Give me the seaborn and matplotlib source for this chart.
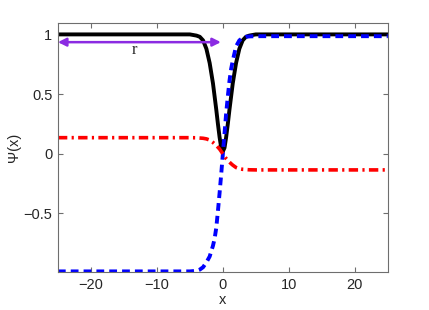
import numpy as np
import pandas as pd
import matplotlib
matplotlib.use("Agg")
import matplotlib.pyplot as plt
import seaborn as sns

# --- data ---
x_vals = [-25, -10, -5, -4, -3.5, -3, -2.5, -2, -1.5, -1.25, -1, -0.75, -0.5, -0.25,
          0, 0.25, 0.5, 0.75, 1, 1.25, 1.5, 2, 2.5, 3, 3.5, 4, 5, 10, 25]

amp_vals = [1.0, 1.0, 1.0, 0.99, 0.98, 0.95, 0.88, 0.76, 0.59, 0.48, 0.37, 0.25, 0.14, 0.05,
            0.02, 0.05, 0.14, 0.25, 0.37, 0.48, 0.59, 0.76, 0.88, 0.95, 0.98, 0.99, 1.0, 1.0, 1.0]

re_vals = [-0.985, -0.985, -0.985, -0.98, -0.97, -0.95, -0.91, -0.86, -0.77, -0.71, -0.62, -0.48, -0.33, -0.17,
           0.0, 0.17, 0.34, 0.48, 0.61, 0.71, 0.78, 0.9, 0.95, 0.97, 0.98, 0.983, 0.985, 0.985, 0.985]

im_vals = [0.135, 0.135, 0.135, 0.134, 0.132, 0.13, 0.125, 0.115, 0.095, 0.083, 0.07, 0.055, 0.04, 0.02,
           0.0, -0.02, -0.04, -0.055, -0.07, -0.083, -0.095, -0.115, -0.125, -0.13, -0.132, -0.134, -0.135, -0.135, -0.135]

x_ticks = [-20, -10, 0, 10, 20]
y_ticks = [-0.5, 0, 0.5, 1]

df = pd.DataFrame({"x": x_vals, "amp": amp_vals, "re": re_vals, "im": im_vals})

sns.set_style("ticks")
plt.rcParams["font.family"] = ["Liberation Sans", "DejaVu Sans"]

fig = plt.figure(figsize=(4.29, 3.10), dpi=100)
ax = fig.add_axes([0.135, 0.1226, 0.769, 0.8034])

sns.lineplot(data=df, x="x", y="amp", ax=ax, color="black", lw=2.8, sort=False)
sns.lineplot(data=df, x="x", y="re", ax=ax, color="#0000ff", lw=2.8, sort=False,
             linestyle=(0, (2.0, 1.3)))
sns.lineplot(data=df, x="x", y="im", ax=ax, color="#ff0000", lw=2.6, sort=False,
             linestyle=(0, (2.6, 1.2, 0.6, 1.2)))

# double arrow showing r
purple = "#8b2be2"
ax.annotate("", xy=(-0.3, 0.935), xytext=(-25, 0.935),
            arrowprops=dict(arrowstyle="<|-|>", color=purple, lw=1.8,
                            mutation_scale=12, shrinkA=0, shrinkB=0))
ax.text(-13.4, 0.87, "r", family="Liberation Serif", fontsize=12,
        ha="center", va="center")

ax.set_xlim(-25, 25)
ax.set_ylim(-0.99, 1.096)
ax.set_xticks(x_ticks)
ax.set_yticks(y_ticks)
ax.set_yticklabels(["\u22120.5", "0", "0.5", "1"])
ax.set_xlabel("x", fontsize=10.5, labelpad=1)
ax.set_ylabel("\u03a8(x)", fontsize=10.5, labelpad=2)

for s in ax.spines.values():
    s.set_color("#6e6e6e")
    s.set_linewidth(0.8)
ax.tick_params(direction="in", length=3.5, width=0.8, color="#6e6e6e",
               top=True, right=True, labelsize=10.5, pad=4)

fig.savefig("out.png", dpi=100)
